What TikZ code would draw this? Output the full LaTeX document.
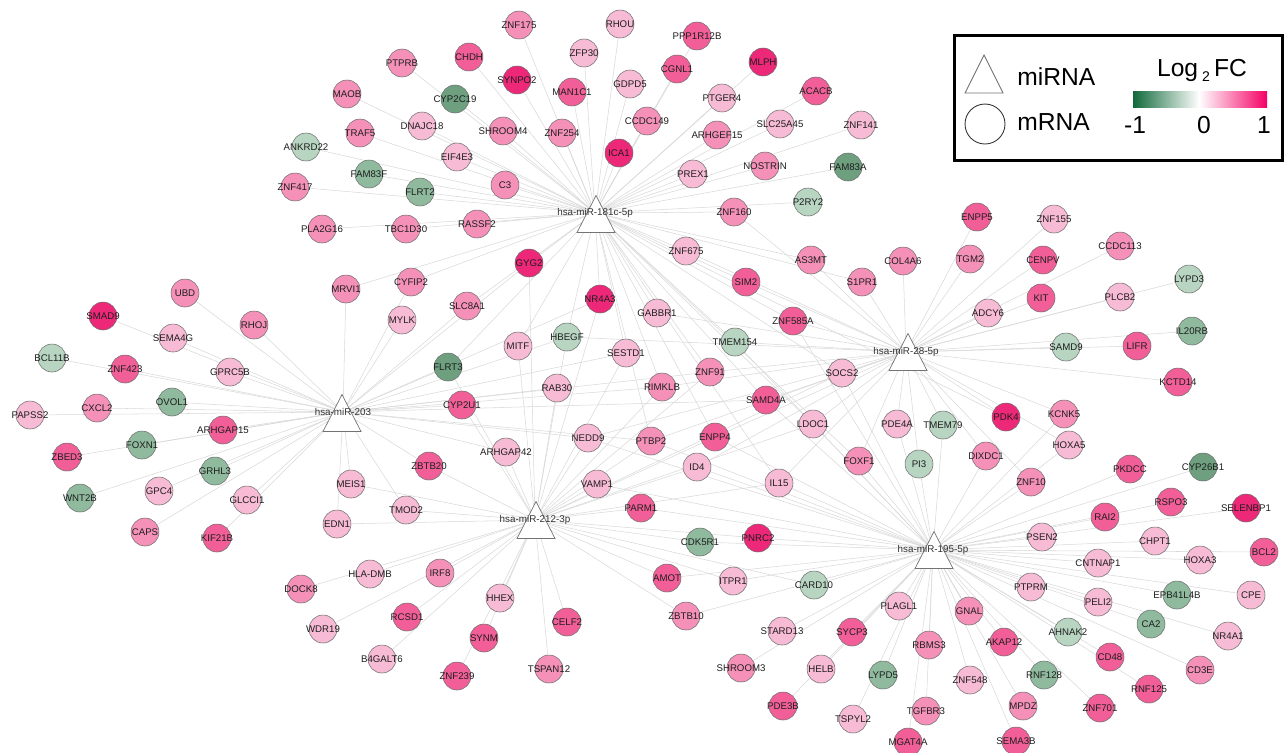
\documentclass[tikz,border=0pt]{standalone}
\usepackage{fontspec}
\setmainfont{Liberation Sans}
\usetikzlibrary{backgrounds}
\definecolor{pk1}{RGB}{238,40,120}
\definecolor{pk2}{RGB}{242,95,152}
\definecolor{pk3}{RGB}{245,145,185}
\definecolor{pk4}{RGB}{248,187,213}
\definecolor{gn1}{RGB}{184,213,194}
\definecolor{gn2}{RGB}{143,186,158}
\definecolor{gn3}{RGB}{110,160,128}
\definecolor{nodeline}{RGB}{110,110,110}
\definecolor{textcol}{RGB}{30,30,30}
\definecolor{gdark}{RGB}{16,105,58}
\definecolor{phot}{RGB}{245,0,100}
\newcommand\genefont{\fontsize{5.5}{6}\selectfont}
\newcommand\hubfont{\fontsize{5.6}{6.5}\selectfont}
\newcommand\legfont{\fontsize{14}{16}\selectfont}
\newcommand\hubtriangle[2]{\draw[hubshape] ({#1-19},{#2+18.5}) -- ({#1+19},{#2+18.5}) -- ({#1},{#2-18.5}) -- cycle;}
\begin{document}
\begin{tikzpicture}[x=0.02cm,y=-0.02cm,
  gene/.style={circle,draw=nodeline,line width=0.3pt,fill=#1,minimum size=0.56cm,inner sep=0pt,font=\genefont,text=textcol},
  hublabel/.style={inner sep=0pt,font=\hubfont,text=black!80},
  hubshape/.style={draw=black!55,line width=0.4pt,fill=white},
  edge/.style={draw=black!15,line width=0.3pt},
  legtext/.style={inner sep=0pt,font=\legfont,text=black}]
\useasboundingbox (0,0) rectangle (1287,752);
% hubs
\hubtriangle{596}{214}
\hubtriangle{342}{413}
\hubtriangle{536}{520}
\hubtriangle{908}{352}
\hubtriangle{934}{550}
\node[hublabel] (hA) at (595,213) {hsa-miR-181c-5p};
\node[hublabel] (hB) at (343,412) {hsa-miR-203};
\node[hublabel] (hC) at (535,520) {hsa-miR-212-3p};
\node[hublabel] (hD) at (906,352) {hsa-miR-28-5p};
\node[hublabel] (hE) at (933,550) {hsa-miR-195-5p};
% genes
\foreach \n/\x/\y/\c in {
ZNF175/519/25/pk3, RHOU/620/24/pk4, PPP1R12B/697/36/pk2, ZFP30/584/53/pk4, CHDH/469/57/pk2,
PTPRB/402/63/pk3, MLPH/763/62/pk1, CGNL1/677/69/pk2, SYNPO2/517/80/pk1, MAN1C1/572/92/pk2,
GDPD5/630/84/pk4, ACACB/816/91/pk2, MAOB/347/94/pk3, PTGER4/722/98/pk4, CYP2C19/455/99/gn3,
CCDC149/647/121/pk3, SLC25A45/780/124/pk4, ZNF141/861/125/pk4, DNAJC18/422/126/pk4, TRAF5/360/133/pk3,
SHROOM4/503/131/pk3, ZNF254/562/133/pk3, ARHGEF15/717/135/pk3, ANKRD22/306/147/gn1, ICA1/619/153/pk1,
EIF4E3/457/157/pk4, FAM83A/848/167/gn3, NOSTRIN/765/166/pk3, PREX1/693/174/pk4, FAM83F/369/174/gn2,
C3/505/185/pk3, ZNF417/295/187/pk3, FLRT2/420/192/gn2, P2RY2/808/202/gn1, ZNF160/734/212/pk3,
RASSF2/477/224/pk3, TBC1D30/406/229/pk3, PLA2G16/322/229/pk3, ZNF675/686/251/pk4, ENPP5/977/217/pk2,
ZNF155/1054/219/pk4, CCDC113/1120/246/pk3, GYG2/529/263/pk1, AS3MT/811/260/pk3, COL4A6/903/261/pk3,
TGM2/970/259/pk3, CENPV/1043/260/pk2, MRVI1/346/289/pk3, CYFIP2/411/282/pk3, SIM2/746/282/pk2,
S1PR1/862/282/pk3, KIT/1041/298/pk2, LYPD3/1189/279/gn1, PLCB2/1120/297/pk4, UBD/185/293/pk3,
NR4A3/600/299/pk1, SLC8A1/467/306/pk3, GABBR1/657/313/pk4, ZNF585A/793/321/pk2, ADCY6/988/313/pk4,
SMAD9/103/316/pk1, RHOJ/254/325/pk3, MYLK/402/320/pk4, HBEGF/567/337/gn1, TMEM154/735/342/gn1,
SAMD9/1066/347/gn1, IL20RB/1192/331/gn2, LIFR/1137/346/pk2, SEMA4G/173/338/pk4, BCL11B/52/358/gn1,
ZNF423/125/369/pk2, GPRC5B/230/372/pk4, MITF/518/346/pk4, SESTD1/626/353/pk4, FLRT3/448/367/gn3,
ZNF91/710/372/pk3, SOCS2/842/373/pk4, KCTD14/1178/382/pk2, OVOL1/172/402/gn2, PAPSS2/30/415/pk4,
CXCL2/97/408/pk3, RAB30/557/388/pk4, RIMKLB/662/387/pk3, CYP2U1/462/405/pk2, SAMD4A/766/400/pk2,
PDK4/1006/417/pk1, KCNK5/1064/414/pk3, ARHGAP15/223/430/pk2, FOXN1/142/445/gn2, ZBED3/67/457/pk2,
LDOC1/813/424/pk4, PDE4A/897/424/pk4, TMEM79/943/425/gn1, NEDD9/588/438/pk4, PTBP2/651/441/pk3,
ENPP4/715/437/pk2, HOXA5/1069/445/pk4, GRHL3/215/471/gn2, ARHGAP42/506/452/pk4, ID4/697/467/pk4,
DIXDC1/986/456/pk3, PI3/919/464/gn1, FOXF1/859/461/pk3, GPC4/159/491/pk4, WNT2B/80/498/gn2,
GLCCI1/247/500/pk4, MEIS1/351/484/pk4, ZBTB20/429/466/pk2, VAMP1/597/484/pk4, IL15/779/483/pk4,
ZNF10/1031/482/pk3, PKDCC/1130/469/pk2, CYP26B1/1203/467/gn3, CAPS/145/532/pk3, KIF21B/217/538/pk2,
TMOD2/406/510/pk4, EDN1/337/524/pk4, PARM1/641/508/pk2, RAI2/1105/517/pk2, RSPO3/1171/502/pk2,
SELENBP1/1246/508/pk1, CDK5R1/700/542/gn2, PNRC2/758/538/pk1, PSEN2/1042/537/pk4, CHPT1/1155/541/pk4,
BCL2/1264/552/pk2, DOCK8/301/589/pk3, IRF8/440/573/pk3, AMOT/667/578/pk2, ITPR1/733/581/pk4,
CARD10/814/585/gn1, CNTNAP1/1098/563/pk4, HOXA3/1200/560/pk4, CPE/1251/595/pk4, PTPRM/1031/587/pk4,
EPB41L4B/1177/595/gn2, PELI2/1098/602/pk4, WDR19/323/629/pk4, RCSD1/407/617/pk2, HHEX/500/598/pk4,
ZBTB10/686/616/pk3, STARD13/782/631/pk4, PLAGL1/899/606/pk4, GNAL/969/611/pk3, CA2/1151/624/gn2,
NR4A1/1228/636/pk4, SYCP3/852/632/pk2, CELF2/567/622/pk2, AHNAK2/1068/632/gn1, AKAP12/1004/642/pk2,
CD48/1110/657/pk2, CD3E/1200/670/pk3, B4GALT6/382/659/pk4, SYNM/484/638/pk2, SHROOM3/741/668/pk3,
HELB/821/669/pk4, RBMS3/929/645/pk3, ZNF239/457/676/pk2, TSPAN12/549/669/pk3, LYPD5/883/675/gn2,
ZNF548/970/680/pk4, RNF128/1044/675/gn2, RNF125/1149/689/pk2, PDE3B/783/706/pk2, TSPYL2/853/719/pk4,
TGFBR3/926/711/pk3, MPDZ/1023/706/pk3, ZNF701/1100/708/pk2, MGAT4A/908/742/pk2, SEMA3B/1016/741/pk2}
{\node[gene=\c] (\n) at (\x,\y) {\makebox[0pt]{\n}};}
\node[gene=pk4] (HLADMB) at (370,574) {\makebox[0pt]{HLA-DMB}};
% legend
\draw[line width=1.7pt] (954,35) rectangle (1282,160);
\draw[draw=black!55,line width=0.5pt] (965,93) -- (1003,93) -- (984,55) -- cycle;
\node[circle,draw=black!80,line width=0.5pt,minimum size=0.8cm,inner sep=0pt] (legcirc) at (985,124) {};
\node[legtext,anchor=west] (legmi) at (1017,77) {miRNA};
\node[legtext,anchor=west] (legm) at (1017,122) {mRNA};
\node[legtext,anchor=base] (leglog) at (1202,76) {Log\,\raisebox{-0.4ex}{\fontsize{8}{9}\selectfont 2}\,FC};
\shade[left color=gdark,right color=white] (1133,91) rectangle (1199,107);
\shade[left color=white,right color=phot] (1199,91) rectangle (1267,107);
\node[legtext] (lm1) at (1135,125) {-1};
\node[legtext] (l0) at (1204,125) {0};
\node[legtext] (l1) at (1264,125) {1};
% edges
\begin{scope}[on background layer]
\fill[white] (0,0) rectangle (1287,752);
\foreach \n in {ZNF175,RHOU,PPP1R12B,ZFP30,CHDH,PTPRB,MLPH,CGNL1,SYNPO2,MAN1C1,GDPD5,ACACB,MAOB,PTGER4,CYP2C19,CCDC149,SLC25A45,ZNF141,DNAJC18,TRAF5,SHROOM4,ZNF254,ARHGEF15,ANKRD22,ICA1,EIF4E3,FAM83A,NOSTRIN,PREX1,FAM83F,C3,ZNF417,FLRT2,P2RY2,ZNF160,RASSF2,TBC1D30,PLA2G16,ZNF675,GYG2,MRVI1,CYFIP2,SLC8A1,NR4A3,GABBR1,SIM2,AS3MT,FLRT3,HBEGF,SESTD1,ZNF585A,TMEM154,RIMKLB,ZNF91,SAMD4A,ENPP4,SOCS2,LDOC1,S1PR1,MITF,PTBP2,FOXF1,PDK4,IL15}
  {\draw[edge] (hA.center) -- (\n);}
\foreach \n in {UBD,SMAD9,RHOJ,SEMA4G,BCL11B,ZNF423,GPRC5B,OVOL1,PAPSS2,CXCL2,ARHGAP15,FOXN1,ZBED3,GRHL3,WNT2B,GPC4,GLCCI1,CAPS,KIF21B,MEIS1,EDN1,MRVI1,MYLK,SLC8A1,FLRT3,GYG2,CYP2U1,ZBTB20,TMOD2,ARHGAP42,NEDD9,RAB30,SESTD1,HBEGF,ZNF91,SAMD4A,PTBP2,CYFIP2,NR4A3,RIMKLB}
  {\draw[edge] (hB.center) -- (\n);}
\foreach \n in {TMOD2,EDN1,HLADMB,IRF8,HHEX,RCSD1,CELF2,SYNM,B4GALT6,ZNF239,TSPAN12,WDR19,DOCK8,ZBTB20,ARHGAP42,VAMP1,PARM1,CDK5R1,PNRC2,AMOT,ITPR1,ZBTB10,NEDD9,ID4,IL15,ENPP4,PTBP2,CYP2U1,MITF,RIMKLB,SESTD1,MEIS1,FLRT3,GYG2,NR4A3,ZNF91,SOCS2,LDOC1,CARD10,HBEGF,RAB30}
  {\draw[edge] (hC.center) -- (\n);}
\foreach \n in {ENPP5,ZNF155,CCDC113,TGM2,CENPV,KIT,ADCY6,PLCB2,LYPD3,SAMD9,LIFR,IL20RB,KCTD14,COL4A6,S1PR1,AS3MT,SOCS2,PDE4A,TMEM79,PI3,PDK4,KCNK5,HOXA5,DIXDC1,ZNF10,FOXF1,LDOC1,SAMD4A,ZNF585A,TMEM154,GABBR1,SIM2,ZNF91,RIMKLB,HBEGF,NEDD9,ENPP4,ID4,ZNF675,ZNF160,PTBP2,IL15}
  {\draw[edge] (hD.center) -- (\n);}
\foreach \n in {PKDCC,CYP26B1,RSPO3,SELENBP1,RAI2,PSEN2,CHPT1,BCL2,HOXA3,CNTNAP1,PTPRM,EPB41L4B,CPE,PELI2,GNAL,CA2,AHNAK2,NR4A1,AKAP12,CD48,CD3E,RNF128,ZNF548,RNF125,MPDZ,ZNF701,SEMA3B,PLAGL1,RBMS3,SYCP3,STARD13,CARD10,LYPD5,HELB,TSPYL2,TGFBR3,MGAT4A,PDE3B,SHROOM3,ZBTB10,ITPR1,PNRC2,CDK5R1,AMOT,PARM1,ZNF10,DIXDC1,FOXF1,PI3,TMEM79,IL15,LDOC1,HOXA5,KCNK5,PDE4A,VAMP1,ID4,ENPP4,SAMD4A,SOCS2,NEDD9,PTBP2,ZNF585A,TMEM154}
  {\draw[edge] (hE.center) -- (\n);}
\end{scope}
\end{tikzpicture}
\end{document}
